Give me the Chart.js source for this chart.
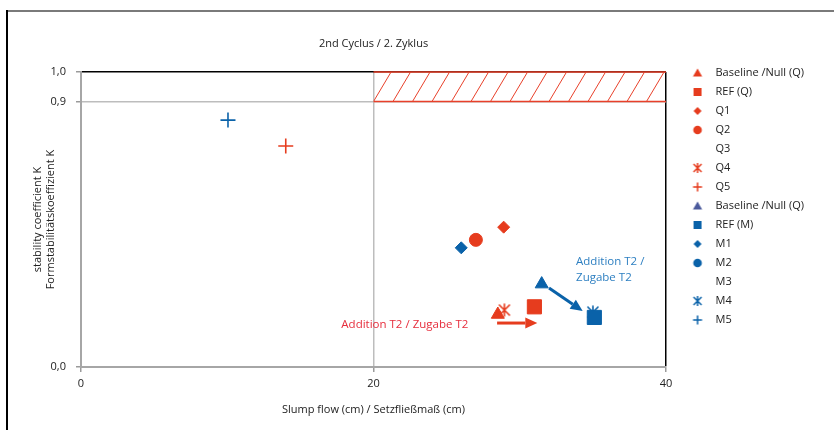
<!DOCTYPE html>
<html>
<head>
<meta charset="utf-8">
<script src="https://cdn.jsdelivr.net/npm/chart.js@4.4.1/dist/chart.umd.min.js"></script>
<style>
  html, body { margin: 0; padding: 0; background: #fff; }
  canvas { display: block; }
</style>
</head>
<body>
<canvas id="cyclusChart" width="834" height="430"></canvas>
<script>
// values
const seriesLabels = ['Baseline /Null (Q)', 'REF (Q)', 'Q1', 'Q2', 'Q3', 'Q4', 'Q5',
  'Baseline /Null (Q)', 'REF (M)', 'M1', 'M2', 'M3', 'M4', 'M5'];
const slumpFlow = [28.5, 31.0, 28.9, 27.0, null, 28.95, 14.0, 31.5, 35.1, 26.0, null, null, 35.0, 10.05];
const stability = [0.178, 0.204, 0.474, 0.431, null, 0.193, 0.749, 0.281, 0.168, 0.404, null, null, 0.186, 0.837];
const xTicks = [0, 20, 40];
const yTicks = [0, 0.9, 1.0];
const zoneX = [20, 40];
const zoneY = [0.9, 1.0];

// notes and arrows (data coordinates)
const redNote = 'Addition T2 / Zugabe T2';
const redNoteAt = [17.8, 0.142];
const blueNote = ['Addition T2 /', 'Zugabe T2'];
const blueNoteAt = [33.85, 0.356];
const redArrow = [[28.45, 0.149], [31.2, 0.149]];
const blueArrow = [[32.0, 0.268], [34.3, 0.19]];

const RED = '#e63c1e';
const BLUE = '#0a62a9';
const NOTE_RED = '#e62d3c';
const NOTE_BLUE = '#2d7fc1';

const seriesColors = [RED, RED, RED, RED, RED, RED, RED, BLUE, BLUE, BLUE, BLUE, BLUE, BLUE, BLUE];
const legendColors = [RED, RED, RED, RED, null, RED, RED, '#4b5a9c', BLUE, BLUE, BLUE, null, BLUE, BLUE];
const seriesShapes = ['triangle', 'rect', 'rectRot', 'circle', null, 'asterisk', 'cross',
  'triangle', 'rect', 'rectRot', 'circle', null, 'asterisk', 'cross'];
const seriesRadius = [7.5, 10, 6, 6.5, 0, 6, 7.5, 7.5, 10, 6, 6.5, 0, 6, 7.5];

function asterisk(color, size) {
  const c = document.createElement('canvas');
  c.width = size; c.height = size;
  const g = c.getContext('2d');
  const m = size / 2, e = size - 1.5;
  g.strokeStyle = color;
  g.lineWidth = 1.6;
  g.beginPath();
  g.moveTo(1.5, 1.5); g.lineTo(e, e);
  g.moveTo(e, 1.5); g.lineTo(1.5, e);
  g.moveTo(m, 0.5); g.lineTo(m, size - 0.5);
  g.stroke();
  return c;
}

// legend icon: marker drawn left of the image centre so the text gap matches
function legendIcon(shape, color) {
  const c = document.createElement('canvas');
  c.width = 26; c.height = 12;
  const g = c.getContext('2d');
  const cx = 6, cy = 6;
  if (!shape) return c;
  g.fillStyle = color;
  g.strokeStyle = color;
  g.lineWidth = 1.5;
  g.beginPath();
  if (shape === 'triangle') {
    g.moveTo(cx, cy - 4.5); g.lineTo(cx + 4.6, cy + 3.6); g.lineTo(cx - 4.6, cy + 3.6);
    g.closePath(); g.fill();
  } else if (shape === 'rect') {
    g.fillRect(cx - 4, cy - 4, 8, 8);
  } else if (shape === 'rectRot') {
    g.moveTo(cx, cy - 4); g.lineTo(cx + 4, cy); g.lineTo(cx, cy + 4); g.lineTo(cx - 4, cy);
    g.closePath(); g.fill();
  } else if (shape === 'circle') {
    g.arc(cx, cy, 4.3, 0, Math.PI * 2); g.fill();
  } else if (shape === 'cross') {
    g.moveTo(cx - 4.5, cy); g.lineTo(cx + 4.5, cy);
    g.moveTo(cx, cy - 4.5); g.lineTo(cx, cy + 4.5); g.stroke();
  } else if (shape === 'asterisk') {
    g.moveTo(cx - 4, cy - 4); g.lineTo(cx + 4, cy + 4);
    g.moveTo(cx + 4, cy - 4); g.lineTo(cx - 4, cy + 4);
    g.moveTo(cx, cy - 5); g.lineTo(cx, cy + 5); g.stroke();
  }
  return c;
}

const datasets = seriesLabels.map((label, i) => ({
  label,
  data: slumpFlow[i] === null ? [] : [{ x: slumpFlow[i], y: stability[i] }],
  pointStyle: seriesShapes[i] === 'asterisk' ? asterisk(seriesColors[i], 14) : (seriesShapes[i] || false),
  pointRadius: seriesRadius[i],
  pointHoverRadius: seriesRadius[i],
  pointBackgroundColor: seriesColors[i],
  pointBorderColor: seriesColors[i],
  pointBorderWidth: seriesShapes[i] === 'cross' ? 1.6 : 1,
  order: label === 'Q4' ? -1 : i
}));

function drawArrow(ctx, x1, y1, x2, y2, color) {
  const ang = Math.atan2(y2 - y1, x2 - x1);
  const head = 12, half = 5.5;
  const bx = x2 - head * Math.cos(ang);
  const by = y2 - head * Math.sin(ang);
  ctx.strokeStyle = color;
  ctx.fillStyle = color;
  ctx.lineWidth = 3;
  ctx.beginPath();
  ctx.moveTo(x1, y1);
  ctx.lineTo(bx, by);
  ctx.stroke();
  ctx.beginPath();
  ctx.moveTo(x2, y2);
  ctx.lineTo(bx + half * Math.sin(ang), by - half * Math.cos(ang));
  ctx.lineTo(bx - half * Math.sin(ang), by + half * Math.cos(ang));
  ctx.closePath();
  ctx.fill();
}

const extras = {
  id: 'extras',
  beforeDraw(chart) {
    const ctx = chart.ctx;
    ctx.save();
    ctx.lineWidth = 2;
    ctx.strokeStyle = '#7a7a7a';
    ctx.beginPath(); ctx.moveTo(7, 11); ctx.lineTo(chart.width, 11); ctx.stroke();
    ctx.strokeStyle = '#000';
    ctx.beginPath(); ctx.moveTo(7, 10); ctx.lineTo(7, chart.height); ctx.stroke();
    ctx.restore();
  },
  beforeDatasetsDraw(chart) {
    const { ctx, scales: { x, y } } = chart;
    const left = x.getPixelForValue(zoneX[0]);
    const right = x.getPixelForValue(zoneX[1]);
    const top = y.getPixelForValue(zoneY[1]);
    const bottom = y.getPixelForValue(zoneY[0]);
    const step = (right - left) / 15;
    ctx.save();
    ctx.beginPath();
    ctx.rect(left, top, right - left, bottom - top);
    ctx.clip();
    ctx.strokeStyle = '#e8402a';
    ctx.lineWidth = 1;
    ctx.beginPath();
    for (let i = 0; i < 15; i++) {
      ctx.moveTo(left + i * step, bottom);
      ctx.lineTo(left + i * step + step * 0.9, top);
    }
    ctx.stroke();
    ctx.restore();
    ctx.save();
    ctx.strokeStyle = '#e8402a';
    ctx.lineWidth = 1.5;
    ctx.beginPath();
    ctx.moveTo(left, top); ctx.lineTo(right, top);
    ctx.moveTo(left, bottom); ctx.lineTo(right, bottom);
    ctx.stroke();
    ctx.restore();
  },
  afterDatasetsDraw(chart) {
    const { ctx, scales: { x, y } } = chart;
    ctx.save();
    drawArrow(ctx, x.getPixelForValue(redArrow[0][0]), y.getPixelForValue(redArrow[0][1]),
      x.getPixelForValue(redArrow[1][0]), y.getPixelForValue(redArrow[1][1]), RED);
    drawArrow(ctx, x.getPixelForValue(blueArrow[0][0]), y.getPixelForValue(blueArrow[0][1]),
      x.getPixelForValue(blueArrow[1][0]), y.getPixelForValue(blueArrow[1][1]), BLUE);
    ctx.font = "11.5px 'Open Sans', sans-serif";
    ctx.textBaseline = 'middle';
    ctx.textAlign = 'left';
    ctx.fillStyle = NOTE_RED;
    ctx.fillText(redNote, x.getPixelForValue(redNoteAt[0]), y.getPixelForValue(redNoteAt[1]));
    ctx.fillStyle = NOTE_BLUE;
    blueNote.forEach((line, i) => {
      ctx.fillText(line, x.getPixelForValue(blueNoteAt[0]), y.getPixelForValue(blueNoteAt[1]) + i * 16);
    });
    ctx.restore();
  }
};

Chart.defaults.font.family = "'Open Sans', sans-serif";
Chart.defaults.font.size = 11;
Chart.defaults.color = '#222';

new Chart(document.getElementById('cyclusChart'), {
  type: 'scatter',
  data: { datasets },
  plugins: [extras],
  options: {
    responsive: false,
    animation: false,
    devicePixelRatio: 1,
    layout: { padding: { left: 0, right: 20, top: 0, bottom: 0 } },
    plugins: {
      tooltip: { enabled: false },
      title: {
        display: true,
        text: '2nd Cyclus / 2. Zyklus',
        fullSize: false,
        font: { size: 11, weight: 'normal' },
        color: '#222',
        padding: { top: 37.4, bottom: 21.4 }
      },
      legend: {
        position: 'right',
        align: 'start',
        title: { display: true, text: '', padding: { top: 46.3, bottom: 0 } },
        labels: {
          usePointStyle: true,
          boxWidth: 11,
          boxHeight: 6,
          padding: 8,
          color: '#222',
          font: { size: 11 },
          sort: (a, b) => a.datasetIndex - b.datasetIndex,
          generateLabels(chart) {
            const items = Chart.defaults.plugins.legend.labels.generateLabels(chart);
            items.forEach(item => {
              const i = item.datasetIndex;
              item.pointStyle = legendIcon(seriesShapes[i], legendColors[i]);
              item.rotation = 0;
            });
            return items;
          }
        }
      }
    },
    scales: {
      x: {
        type: 'linear',
        min: 0,
        max: 40,
        afterBuildTicks: s => { s.ticks = xTicks.map(v => ({ value: v })); },
        afterFit: s => { s.height = 63; },
        ticks: { padding: 5, color: '#222' },
        grid: {
          lineWidth: 1.5,
          tickLength: 5,
          color: c => c.tick && c.tick.value === 40 ? '#000' : (c.tick && c.tick.value === 0 ? 'rgba(0,0,0,0)' : '#bdbdbd'),
          tickColor: '#9a9a9a'
        },
        border: { color: '#a6a6a6', width: 2 },
        title: {
          display: true,
          text: 'Slump flow (cm) / Setzfließmaß (cm)',
          padding: { top: 0, bottom: 13.4 },
          color: '#222'
        }
      },
      y: {
        type: 'linear',
        min: 0,
        max: 1,
        afterBuildTicks: s => { s.ticks = yTicks.map(v => ({ value: v })); },
        afterFit: s => { s.width = 81; },
        ticks: {
          padding: 10,
          color: '#222',
          callback: v => v.toFixed(1).replace('.', ',')
        },
        grid: {
          lineWidth: 1.5,
          tickLength: 5,
          color: c => c.tick && c.tick.value === 1 ? '#000' : (c.tick && c.tick.value === 0 ? 'rgba(0,0,0,0)' : '#bdbdbd'),
          tickColor: '#9a9a9a'
        },
        border: { color: '#a6a6a6', width: 2 },
        title: {
          display: true,
          text: ['stability coefficient K', 'Formstabilitätskoeffizient K'],
          padding: { top: 30.6, bottom: 0 },
          font: { size: 11, lineHeight: 1.25 },
          color: '#222'
        }
      },
      gap: {
        type: 'linear',
        position: 'right',
        display: true,
        grid: { display: false },
        border: { display: false },
        ticks: { display: false },
        afterFit: s => { s.width = 25; }
      }
    }
  }
});
</script>
</body>
</html>
